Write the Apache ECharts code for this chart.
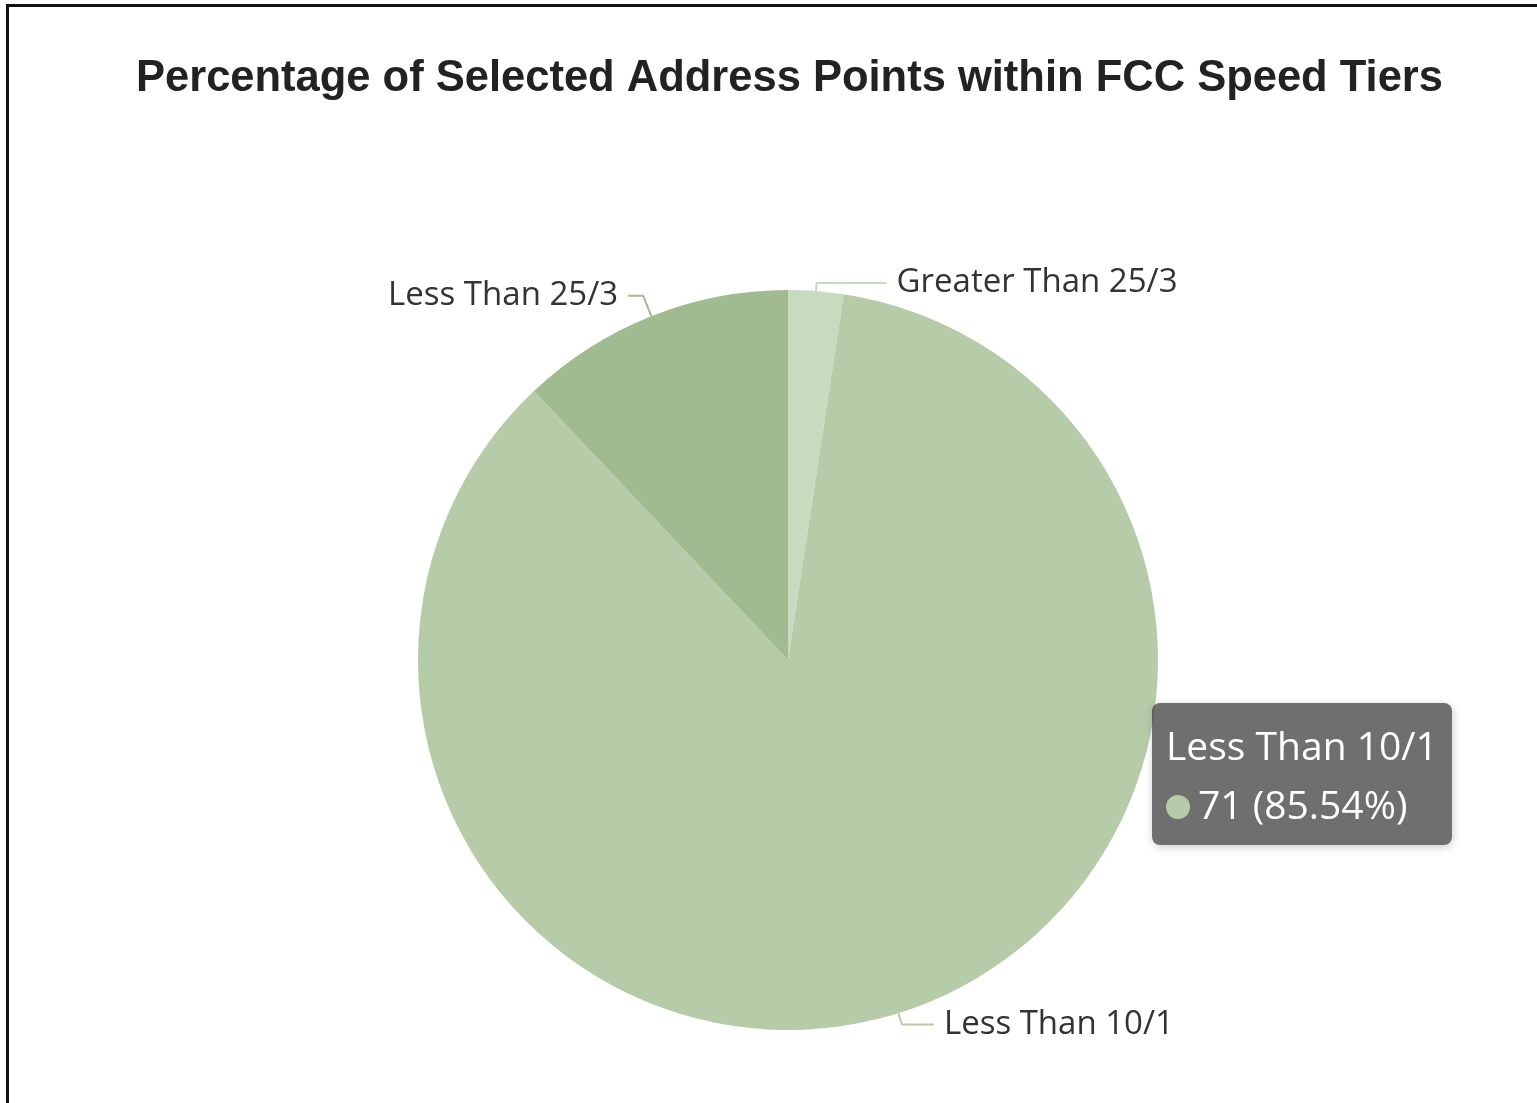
<!DOCTYPE html>
<html>
<head>
<meta charset="utf-8">
<script src="https://cdn.jsdelivr.net/npm/echarts@6/dist/echarts.min.js"></script>
<style>
html,body{margin:0;padding:0;background:#fff;overflow:hidden;}
#frame{position:absolute;left:6px;top:4px;width:1600px;height:1200px;border:3px solid #111;box-sizing:border-box;}
#chart{position:absolute;left:0;top:0;width:1537px;height:1103px;}
</style>
</head>
<body>
<div id="frame"></div>
<div id="chart"></div>
<script>
var categories = ['Greater Than 25/3', 'Less Than 10/1', 'Less Than 25/3'];
var counts = [2, 71, 10];
var colors = ['#c7dbbf', '#b6cca9', '#a1bb90'];
// label line lengths per slice [length, length2]
var lineLens = [[8, 70], [12, 32], [22, 15]];

var myChart = echarts.init(document.getElementById('chart'));

var pieData = [];
for (var i = 0; i < categories.length; i++) {
    pieData.push({
        value: counts[i],
        name: categories[i],
        itemStyle: {color: colors[i]},
        labelLine: {length: lineLens[i][0], length2: lineLens[i][1]}
    });
}

var options = {
    animation: false,
    title: {
        text: 'Percentage of Selected Address Points within FCC Speed Tiers',
        left: 131,
        top: 52,
        textStyle: {
            fontFamily: 'Liberation Sans',
            fontWeight: 'bold',
            fontSize: 43.5,
            color: '#222'
        }
    },
    tooltip: {
        trigger: 'item',
        position: [1152, 703],
        backgroundColor: 'rgba(50,50,50,0.7)',
        borderWidth: 0,
        borderRadius: 8,
        padding: [12, 14],
        textStyle: {color: '#fff', fontSize: 39, fontFamily: 'Open Sans'},
        formatter: function (p) {
            return p.name + '<br/>' + '<span style="display:inline-block;width:24px;height:24px;border-radius:12px;margin-right:8px;background:' + p.color + '"></span>' + p.value + ' (' + p.percent + '%)';
        }
    },
    series: [
        {
            name: 'Speed Tier',
            type: 'pie',
            radius: 370,
            center: [788, 660],
            data: pieData,
            label: {
                color: '#333',
                fontSize: 33,
                fontFamily: 'Open Sans',
                distanceToLabelLine: 10
            },
            labelLine: {lineStyle: {width: 2}},
            emphasis: {scale: false}
        }
    ]
};
myChart.setOption(options, true);
myChart.dispatchAction({type: 'showTip', seriesIndex: 0, dataIndex: 1});
</script>
</body>
</html>
